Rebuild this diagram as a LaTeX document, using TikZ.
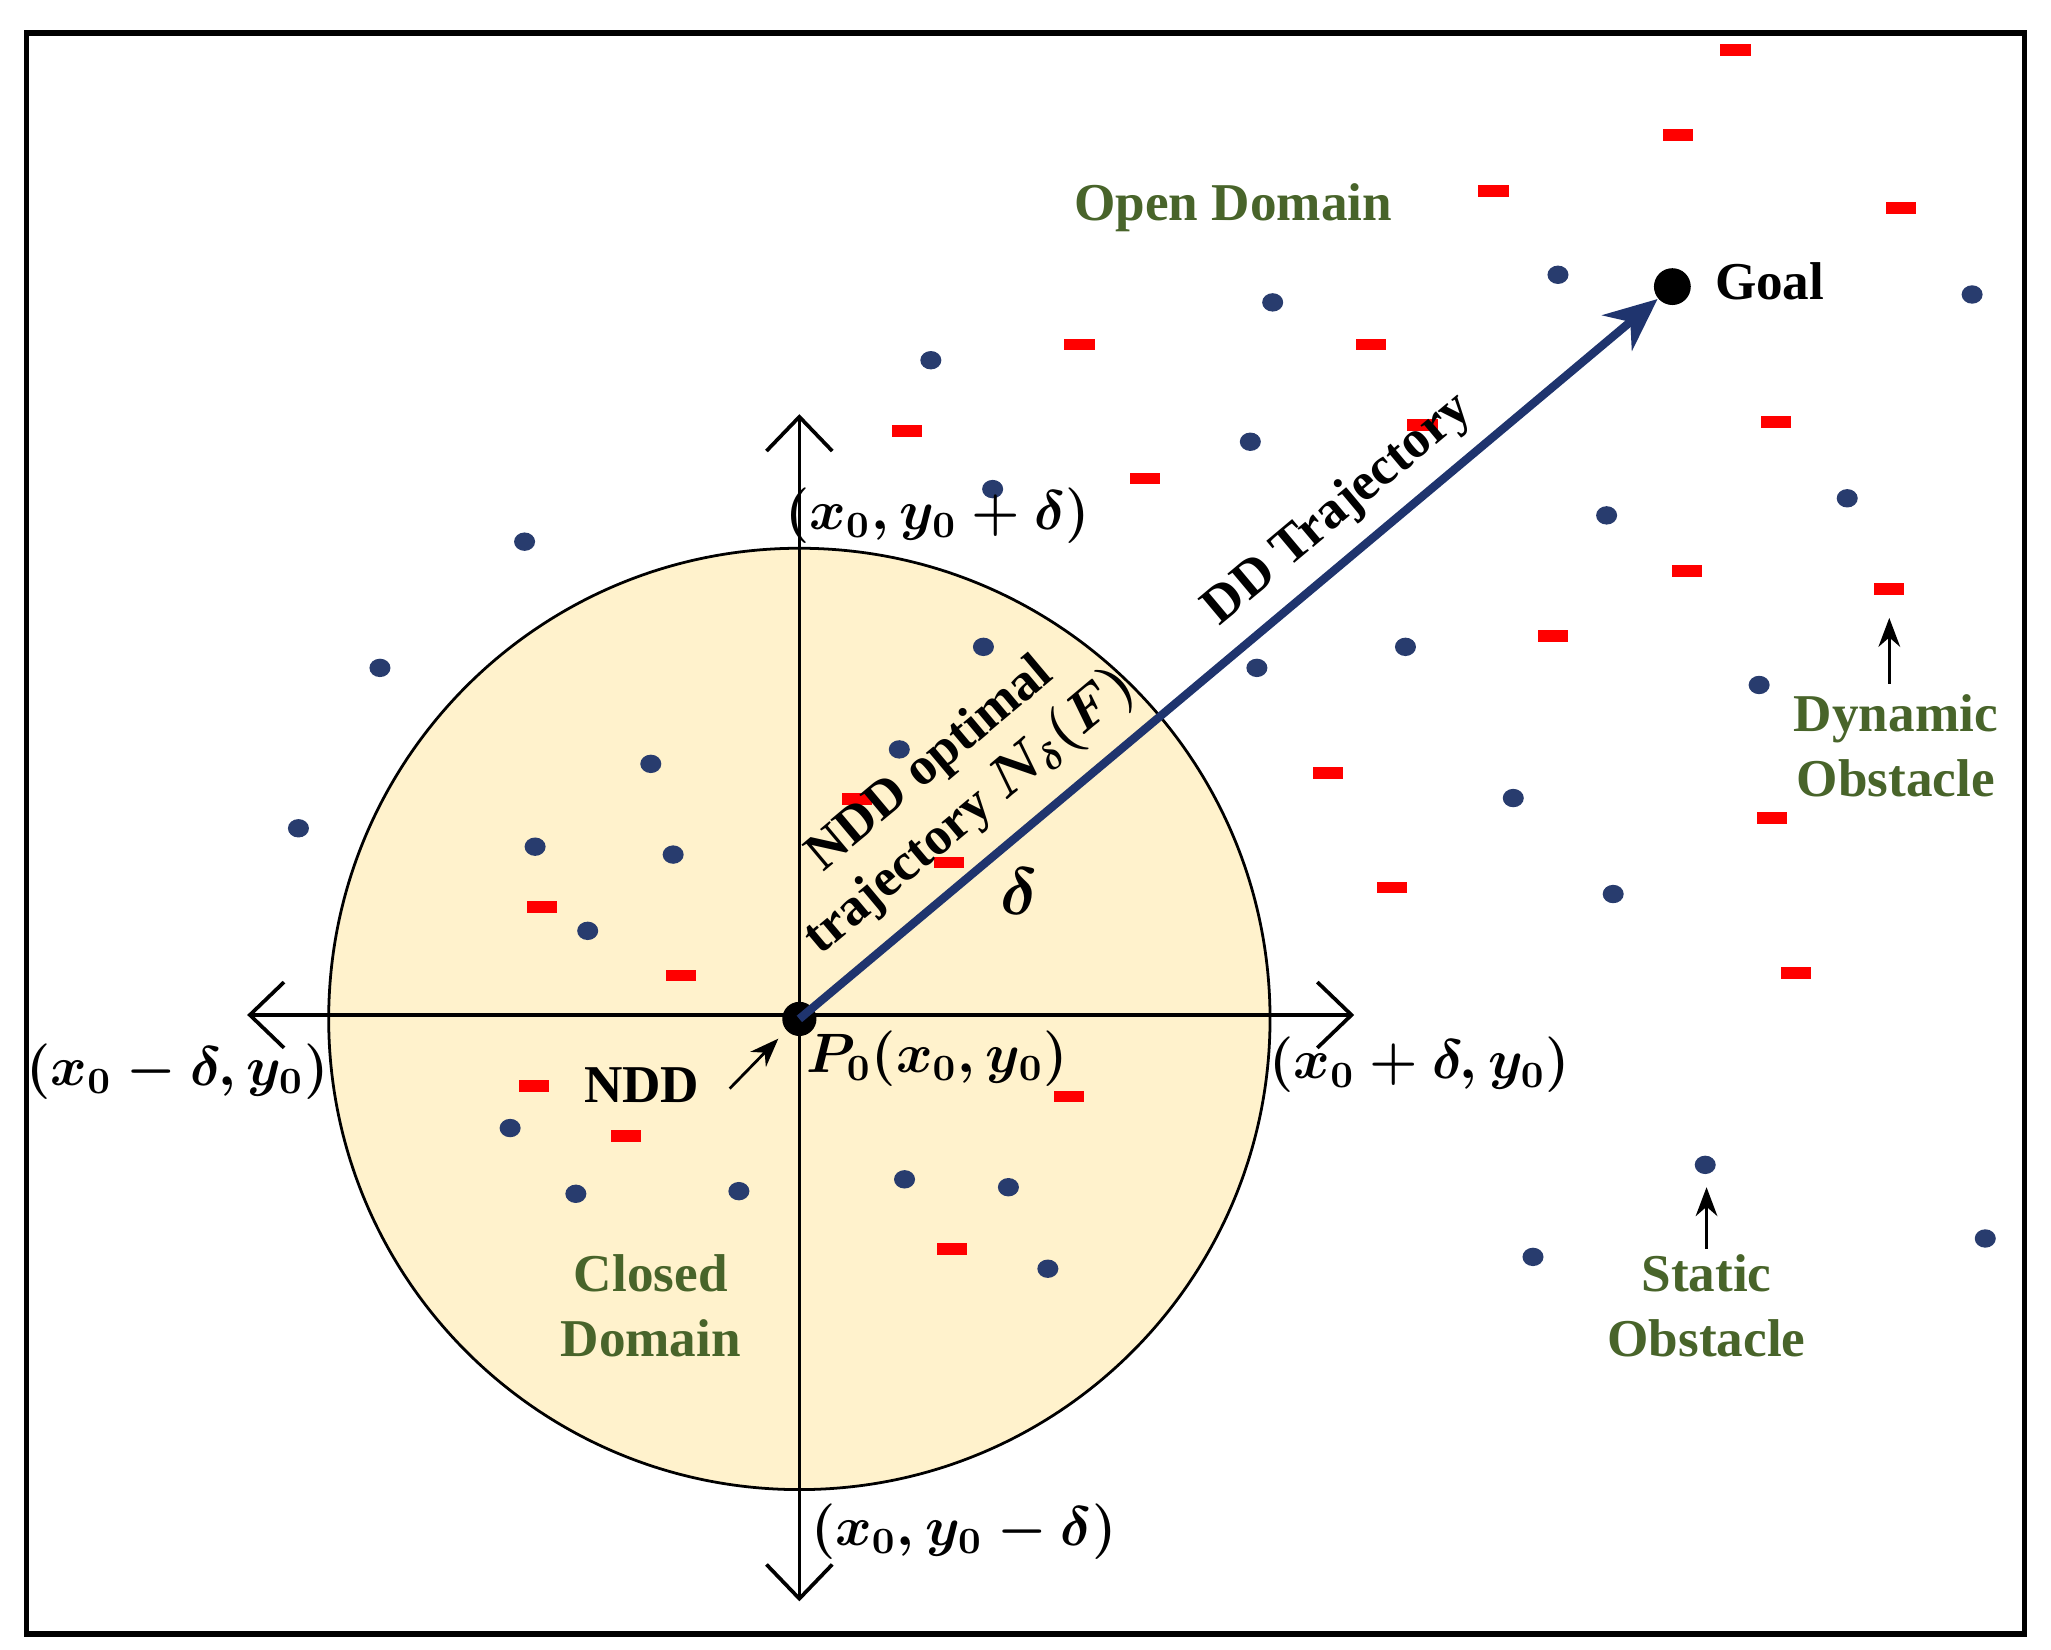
\documentclass[tikz,border=0pt]{standalone}
\usepackage{fontspec}
\setmainfont{Liberation Serif}
\usetikzlibrary{arrows.meta}
\definecolor{dgreen}{RGB}{72,100,42}
\definecolor{navy}{RGB}{31,52,110}
\definecolor{dotblue}{RGB}{40,60,110}
\definecolor{cfill}{RGB}{255,242,204}
\begin{document}
\begin{tikzpicture}[x=0.01cm,y=-0.01cm,
  lab/.style={font=\fontsize{11.5}{14}\selectfont\bfseries},
  glab/.style={lab,text=dgreen,align=center},
  mlab/.style={font=\fontsize{11.5}{14}\selectfont\boldmath},
  dot/.style={fill=dotblue,draw=none},
  reddash/.style={fill=red,draw=none,minimum width=0.23cm,minimum height=0.09cm,inner sep=0pt,rectangle},
  ax/.style={thick,{Straight Barb[length=2.6mm,width=5mm]}-{Straight Barb[length=2.6mm,width=5mm]}},
  sarr/.style={semithick,-{Stealth[length=2.2mm]}}]
\useasboundingbox (0,0) rectangle (1560,1255);
\draw[line width=1.2pt] (20,25) rectangle (1540,1243);
\fill[cfill] (608,775) circle (358);
\draw[semithick] (608,775) circle (358);
\coordinate (L) at (188,772); \coordinate (R) at (1030,772);
\coordinate (T) at (608,315); \coordinate (B) at (608,1218);
\draw[ax] (L) -- (R);
\draw[ax] (T) -- (B);
\foreach \x/\y in {708/274,968/230,1185/209,1500/224,951/336,755/372,399/412,1222/392,1405/379,289/508,748/492,956/508,1069/492,1338/521,495/581,684/570,227/630,407/644,512/650,1151/607,447/708,1227/680,388/858,438/908,562/906,688/897,767/903,797/965,1297/886,1166/956,1510/942}
  \fill[dot] (\x,\y) ellipse (8 and 7);
\foreach \x/\y [count=\i] in {1320/38,1276/103,1136/145,1446/158,821/262,1043/262,690/328,1082/323,1351/321,871/364,1283/434,1437/448,1181/484,1010/588,652/608,1348/622,722/656,412/690,1059/675,518/742,1366/740,406/826,813/834,476/864,724/950}
  \node[reddash] (d\i) at (\x,\y) {};
\node[circle,fill=black,inner sep=0pt,minimum size=0.26cm] (P0) at (608,775) {};
\node[circle,fill=black,inner sep=0pt,minimum size=0.28cm] (G) at (1272,218) {};
\draw[navy,line width=1.8pt,-{Stealth[length=4mm,width=3.5mm]}] (P0.center) -- (G);
\node[lab,anchor=west] (goal) at (1292,214) {Goal};
\node[glab] (open) at (938,158) {Open Domain};
\node[lab,rotate=40] (dd) at (1018,388) {DD Trajectory};
\node[lab,rotate=40] (ndda) at (708,582) {NDD optimal};
\node[mlab,rotate=40] (nddb) at (738,618) {\textbf{trajectory} $N_\delta(F)$};
\node[font=\fontsize{15}{18}\selectfont\boldmath] (delta) at (775,678) {$\delta$};
\node[mlab] (top) at (713,392) {$(x_0,y_0+\delta)$};
\node[mlab] (left) at (135,815) {$(x_0-\delta,y_0)$};
\node[mlab] (right) at (1080,810) {$(x_0+\delta,y_0)$};
\node[mlab] (bot) at (733,1165) {$(x_0,y_0-\delta)$};
\node[mlab] (p0l) at (713,805) {$P_0(x_0,y_0)$};
\node[lab] (ndl) at (488,825) {NDD};
\coordinate (n1) at (555,828);
\coordinate (n2) at (592,790);
\draw[sarr] (n1) -- (n2);
\node[glab] (closed) at (495,993) {Closed\\Domain};
\node[glab] (stat) at (1298,993) {Static\\Obstacle};
\coordinate (s1) at (1298,950); \coordinate (s2) at (1298,903);
\draw[sarr] (s1) -- (s2);
\node[glab] (dyn) at (1442,567) {Dynamic\\Obstacle};
\coordinate (y1) at (1437,520); \coordinate (y2) at (1437,470);
\draw[sarr] (y1) -- (y2);
\end{tikzpicture}
\end{document}
